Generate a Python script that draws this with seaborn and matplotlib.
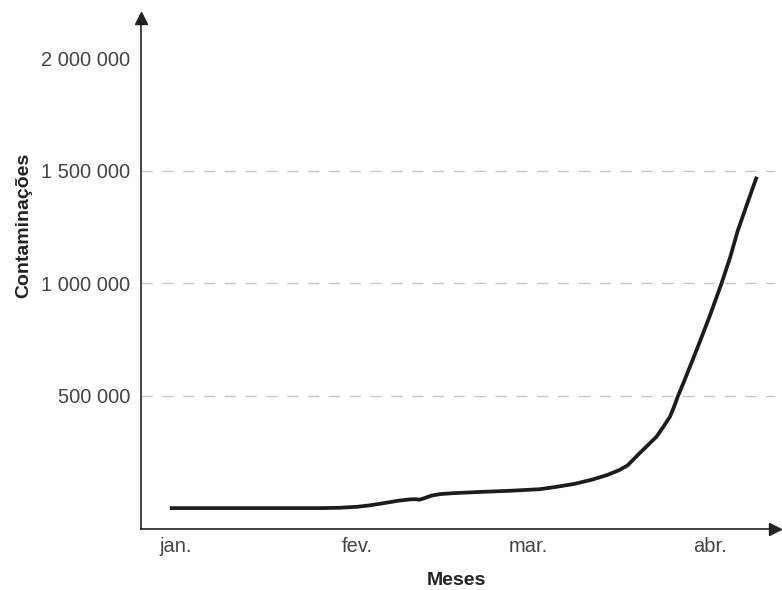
import numpy as np
import pandas as pd
import matplotlib
matplotlib.use('Agg')
import matplotlib.pyplot as plt
import seaborn as sns

# dados (dia do ano 2020, casos acumulados)
dias = [-1, 10, 20, 25, 28, 31, 33, 35, 38, 40, 41, 41.5, 42.5, 43.5, 45, 47,
        52, 57, 62, 65, 68, 71, 73.5, 75.5, 77, 79, 81.9, 83, 84.2, 84.9, 85.6,
        86.7, 89, 91, 93, 94.5, 95.7, 97.3, 99]
casos = [0, 0, 0, 0, 1500, 6000, 12000, 20000, 33000, 39000, 39500, 37000,
         45000, 55000, 62000, 66000, 72000, 77000, 84000, 95000, 108000, 127000,
         147000, 168000, 190000, 243000, 317000, 358000, 406000, 450000, 500000,
         569000, 720000, 855000, 1000000, 1118000, 1229000, 1349000, 1474000]

mes_pos = [0, 31, 60, 91]
mes_rotulos = ['jan.', 'fev.', 'mar.', 'abr.']
y_ticks = [500000, 1000000, 1500000, 2000000]

sns.set_style('white')
plt.rcParams['font.family'] = ['Liberation Sans', 'DejaVu Sans']

df = pd.DataFrame({'dia': dias, 'casos': casos})

fig = plt.figure(figsize=(7.82, 5.90), dpi=100)
ax = fig.add_axes([0.1803, 0.1034, 0.8107, 0.8661])

sns.lineplot(data=df, x='dia', y='casos', ax=ax, color='#1c1c1c', linewidth=2.7)
ax.lines[0].set_solid_joinstyle('round')
ax.lines[0].set_solid_capstyle('butt')

ax.set_xlim(-5.9, 102.1)
ax.set_ylim(-93000, 2180000)

# grade tracejada
for v in y_ticks[:-1]:
    ax.axhline(v, color='#c6c6c6', linewidth=1.0, dashes=(8, 7), zorder=0)

ax.set_yticks(y_ticks)
ax.set_yticklabels([f"{v:,}".replace(',', ' ') for v in y_ticks])
ax.set_xticks(mes_pos)
ax.set_xticklabels(mes_rotulos)

ax.tick_params(axis='both', direction='out', length=4.5, width=1.6, color='#222222',
               labelsize=14.5, labelcolor='#444444')
ax.tick_params(axis='y', pad=3)
ax.tick_params(axis='x', pad=1.5)

for s in ['top', 'right']:
    ax.spines[s].set_visible(False)
for s in ['left', 'bottom']:
    ax.spines[s].set_color('#222222')
    ax.spines[s].set_linewidth(1.2)

# setas nos eixos
ax.plot(1, 0, '>', color='#222222', markersize=9, transform=ax.transAxes, clip_on=False)
ax.plot(0, 1, '^', color='#222222', markersize=9, transform=ax.transAxes, clip_on=False)

ax.set_xlabel('Meses', fontsize=14, fontweight='bold', color='#222222', va='top')
ax.set_ylabel('Contaminações', fontsize=14, fontweight='bold', color='#222222')
ax.xaxis.set_label_coords(0.498, -0.084)
ax.yaxis.set_label_coords(-0.171, 0.595)

fig.savefig('out.png', dpi=100)
